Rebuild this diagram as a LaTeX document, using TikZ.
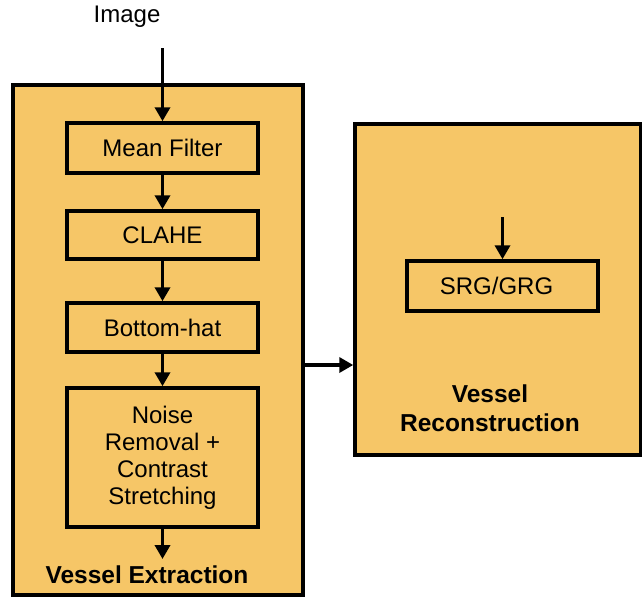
\documentclass[tikz,border=0pt]{standalone}
\usepackage{fontspec}
\setmainfont{Liberation Sans}
\usetikzlibrary{arrows.meta}
\definecolor{boxfill}{HTML}{F6C667}
\tikzset{
    stage/.style={draw, line width=3.5pt, fill=boxfill, minimum width=290pt, inner sep=0pt},
    stepbox/.style={draw, line width=3.5pt, fill=boxfill, minimum width=191pt, inner sep=0pt,
        align=center, font=\fontsize{24}{27}\selectfont},
    flow/.style={line width=3.5pt, -{Triangle[length=14pt,width=15pt]}},
    title/.style={font=\fontsize{24.5}{29}\selectfont\bfseries, align=center}
}
\begin{document}
\begin{tikzpicture}[x=1pt,y=-1pt]
    \useasboundingbox (0,0) rectangle (642,598);

    % outer stages
    \node[stage, minimum height=510pt] (extract) at (158,340) {};
    \node[stage, minimum width=286pt, minimum height=331pt] (recon) at (498,289.5) {};

    % extraction steps
    \node[stepbox, minimum height=50pt] (mean) at (162.5,148) {Mean Filter};
    \node[stepbox, minimum height=48pt] (clahe) at (162.5,235) {CLAHE};
    \node[stepbox, minimum height=49pt] (bottom) at (162.5,327.5) {Bottom-hat};
    \node[stepbox, minimum height=139pt] (noise) at (162.5,457.5)
        {Noise\\Removal +\\Contrast\\Stretching};

    % reconstruction step
    \node[stepbox, minimum height=50pt] (srg) at (502.5,286) {\hspace*{-12pt}SRG/GRG};

    \node[font=\fontsize{24}{27}\selectfont] (image) at (127,17) {Image};
    \node[title] (extlabel) at (147,575) {Vessel Extraction};
    \node[title] (reclabel) at (490,408) {Vessel\\Reconstruction};

    \coordinate (imgin) at (162.5,48);
    \coordinate (extout) at (162.5,559);
    \coordinate (srgin) at (502.5,217);

    \draw[flow] (imgin) -- (mean.north);
    \foreach \a/\b in {mean/clahe, clahe/bottom, bottom/noise}
    {
        \draw[flow] (\a.south) -- (\b.north);
    }
    \draw[flow] (noise.south) -- (extout);
    \draw[flow] (extract.east |- 0,365) -- (recon.west |- 0,365);
    \draw[flow] (srgin) -- (srg.north);
\end{tikzpicture}
\end{document}
